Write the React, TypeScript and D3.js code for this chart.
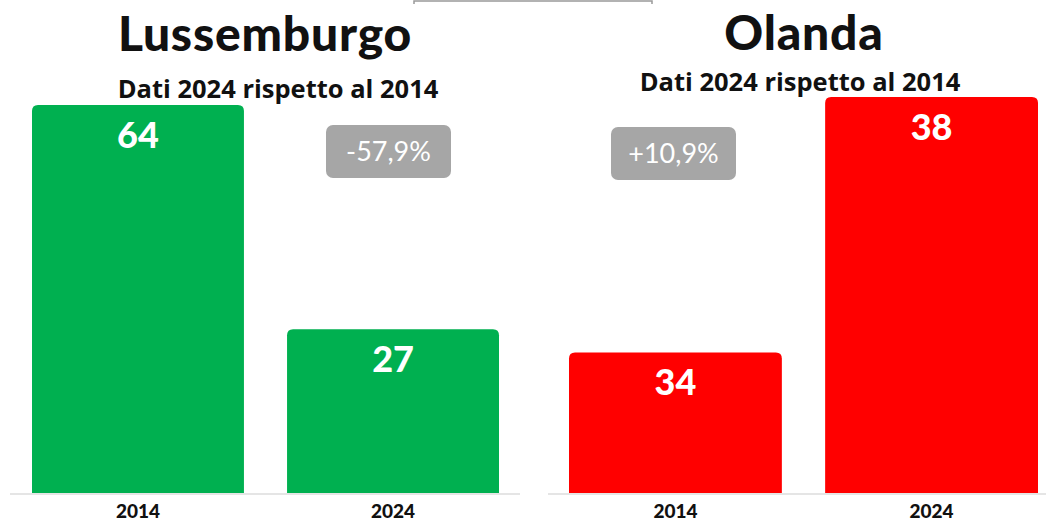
import React from 'react'
import { scaleBand, scaleLinear } from 'd3'

// data
const years = ['2014', '2024']
const lussValues = [64, 27]
const olandaValues = [34, 38]
const panels = [
  { title: 'Lussemburgo', values: lussValues, color: '#00b050', badge: '-57,9%', yMin: 0 },
  { title: 'Olanda', values: olandaValues, color: '#ff0000', badge: '+10,9%', yMin: 31.8 }
]
const subtitle = 'Dati 2024 rispetto al 2014'

const W = 1046
const H = 521
const baseY = 493

// panel layout
const layout = [
  { x0: 32, x1: 499, topY: 105, lineX: [10, 520], titleY: 51, subY: 98, cx: 265, subCx: 278, badgeX: 326, badgeY: 125 },
  { x0: 569, x1: 1038, topY: 97, lineX: [548, 1046], titleY: 50, subY: 91, cx: 804, subCx: 800, badgeX: 611, badgeY: 127 }
]

function topRounded(x: number, y: number, w: number, h: number, r: number) {
  return `M${x},${y + h}V${y + r}Q${x},${y} ${x + r},${y}H${x + w - r}Q${x + w},${y} ${x + w},${y + r}V${y + h}Z`
}

function Panel({ p, l }: { p: typeof panels[0], l: typeof layout[0] }) {
  let x = scaleBand<string>().domain(years).range([l.x0, l.x1]).paddingInner(0.169)
  let maxV = Math.max(...p.values)
  let y = scaleLinear().domain([p.yMin, maxV]).range([baseY, l.topY])

  return (
    <g>
      <text x={l.cx} y={l.titleY} textAnchor="middle" fontFamily="Lato" fontWeight={900}
        fontSize={48} letterSpacing={0.8} fill="#111">{p.title}</text>
      <text x={l.subCx} y={l.subY} textAnchor="middle" fontFamily="Open Sans" fontWeight={700}
        fontSize={25.5} fill="#111">{subtitle}</text>
      <line x1={l.lineX[0]} x2={l.lineX[1]} y1={baseY + 1} y2={baseY + 1} stroke="#dcdcdc" strokeWidth={1.5} />
      {p.values.map((v, i) => {
        let bx = x(years[i])!
        let by = y(v)
        return (
          <g key={i}>
            <path d={topRounded(bx, by, x.bandwidth(), baseY - by, 6)} fill={p.color} />
            <text x={bx + x.bandwidth() / 2} y={by + 43} textAnchor="middle" fontFamily="Lato"
              fontWeight={900} fontSize={36} fill="#fff">{v}</text>
            <text x={bx + x.bandwidth() / 2} y={518} textAnchor="middle" fontFamily="Lato"
              fontWeight={900} fontSize={19} fill="#111">{years[i]}</text>
          </g>
        )
      })}
      <rect x={l.badgeX} y={l.badgeY} width={125} height={53} rx={7} fill="#a6a6a6" />
      <text x={l.badgeX + 62.5} y={l.badgeY + 36} textAnchor="middle" fontFamily="Lato"
        fontWeight={400} fontSize={27} fill="#fff">{p.badge}</text>
    </g>
  )
}

export default function App() {
  return (
    <div style={{ position: 'fixed', left: 0, top: 0 }}>
      <svg width={W} height={H} style={{ display: 'block', background: '#fff' }}>
        <rect width={W} height={H} fill="#fff" />
        <path d="M414,4V1H652V4" fill="none" stroke="#999" strokeWidth={1.5} />
        {panels.map((p, i) => <Panel key={i} p={p} l={layout[i]} />)}
      </svg>
    </div>
  )
}
